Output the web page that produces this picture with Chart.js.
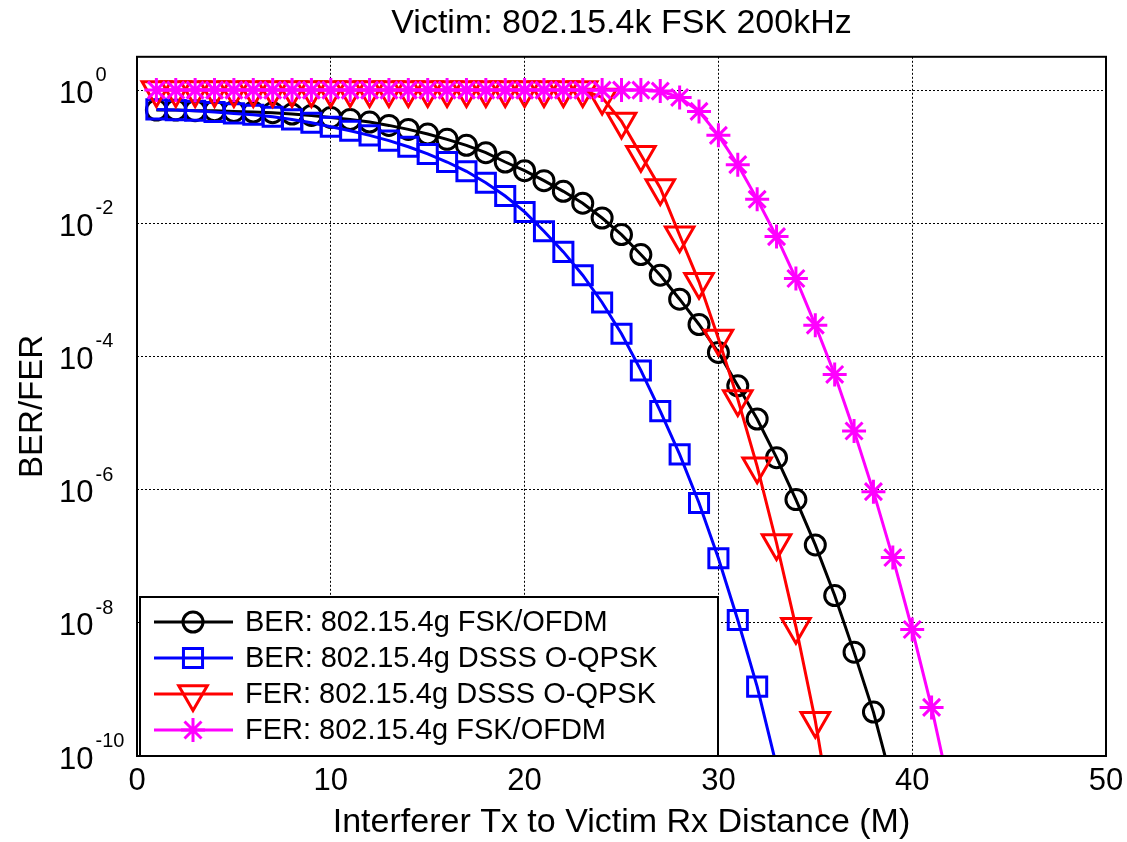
<!DOCTYPE html>
<html>
<head>
<meta charset="utf-8">
<script src="https://cdn.jsdelivr.net/npm/chart.js@4.4.1/dist/chart.umd.min.js"></script>
<style>
  html, body { margin: 0; padding: 0; background: #fff; }
  #wrap { width: 1127px; height: 842px; }
</style>
</head>
<body>
<div id="wrap"><canvas id="ber_chart" width="1127" height="842"></canvas></div>
<script>
// distance of interferer (M)
const distance = [1, 2, 3, 4, 5, 6, 7, 8, 9, 10, 11, 12, 13, 14, 15, 16, 17, 18, 19, 20,
  21, 22, 23, 24, 25, 26, 27, 28, 29, 30, 31, 32, 33, 34, 35, 36, 37, 38, 39, 40, 41, 42];

// BER: 802.15.4g FSK/OFDM
const berFskOfdm = [0.501, 0.501, 0.490, 0.490, 0.479, 0.468, 0.457, 0.437, 0.417, 0.389,
  0.363, 0.331, 0.295, 0.257, 0.219, 0.182, 0.148, 0.115, 0.0832, 0.0617,
  0.0437, 0.0302, 0.0200, 0.0120, 0.00676, 0.00339, 0.00166, 7.24e-4, 3.02e-4, 1.15e-4,
  3.63e-5, 1.15e-5, 3.02e-6, 7.08e-7, 1.48e-7, 2.57e-8, 3.63e-9, 4.57e-10, 3.63e-11];

// BER: 802.15.4g DSSS O-QPSK
const berDsss = [0.513, 0.501, 0.490, 0.468, 0.447, 0.427, 0.398, 0.363, 0.324, 0.282,
  0.245, 0.209, 0.174, 0.141, 0.110, 0.0832, 0.0603, 0.0407, 0.0257, 0.0148,
  0.00759, 0.00372, 0.00166, 6.46e-4, 2.19e-4, 6.17e-5, 1.51e-5, 3.39e-6, 6.31e-7, 9.33e-8,
  1.10e-8, 1.10e-9, 7.08e-11];

// FER: 802.15.4g DSSS O-QPSK
const ferDsss = [1, 1, 1, 1, 1, 1, 1, 1, 1, 1, 1, 1, 1, 1, 1, 1, 1, 1, 1, 1, 1, 1, 1,
  0.776, 0.339, 0.107, 0.0339, 0.00661, 0.00132, 1.86e-4, 2.29e-5, 2.24e-6, 1.58e-7,
  8.71e-9, 3.39e-10, 6.31e-12];

// FER: 802.15.4g FSK/OFDM
const ferFskOfdm = [1, 1, 1, 1, 1, 1, 1, 1, 1, 1, 1, 1, 1, 1, 1, 1, 1, 1, 1, 1, 1, 1, 1, 1, 1, 1,
  0.966, 0.776, 0.479, 0.209, 0.0759, 0.0229, 0.00631, 0.00148, 2.95e-4, 5.37e-5,
  7.59e-6, 9.33e-7, 9.55e-8, 7.94e-9, 5.37e-10, 2.51e-11];

const seriesLabels = ['BER: 802.15.4g FSK/OFDM', 'BER: 802.15.4g DSSS O-QPSK',
  'FER: 802.15.4g DSSS O-QPSK', 'FER: 802.15.4g FSK/OFDM'];
const xTicks = [0, 10, 20, 30, 40, 50];
const yTicks = [1e-10, 1e-8, 1e-6, 1e-4, 1e-2, 1];
const yMin = 1e-10;
const yMax = 3.1623;

const FONT = '"Liberation Sans", Arial, Helvetica, sans-serif';
Chart.defaults.font.family = FONT;
Chart.defaults.color = '#000';

function toPoints(values) {
  return values.map(function (v, i) { return { x: distance[i], y: v }; });
}

function makeSet(label, values, color, style, radius, rotation, order) {
  return {
    label: label,
    data: toPoints(values),
    borderColor: color,
    borderWidth: 3,
    pointStyle: style,
    pointRadius: radius,
    pointRotation: rotation,
    pointBorderWidth: 3,
    pointBorderColor: color,
    pointBackgroundColor: 'rgba(0,0,0,0)',
    tension: 0,
    fill: false,
    clip: 0,
    order: order
  };
}

// 凡例・枠・Y軸ラベル (10^n) を描くプラグイン
const framePlugin = {
  id: 'frame',
  afterDatasetsDraw(chart) {
    const ctx = chart.ctx;
    const a = chart.chartArea;
    // 凡例
    const bx = a.left + 3, by = 597, bw = 578, bh = a.bottom - by;
    ctx.save();
    ctx.fillStyle = '#fff';
    ctx.fillRect(bx, by, bw, bh);
    ctx.strokeStyle = '#000';
    ctx.lineWidth = 2;
    ctx.strokeRect(bx, by, bw, bh);
    const sets = chart.data.datasets;
    for (let i = 0; i < sets.length; i++) {
      const ds = sets[i];
      const ry = 622 + i * 36;
      ctx.strokeStyle = ds.borderColor;
      ctx.lineWidth = 3;
      ctx.beginPath();
      ctx.moveTo(bx + 14, ry);
      ctx.lineTo(bx + 93, ry);
      ctx.stroke();
      if (Chart.helpers && Chart.helpers.drawPoint) {
        ctx.lineWidth = ds.pointBorderWidth;
        ctx.fillStyle = 'rgba(0,0,0,0)';
        Chart.helpers.drawPoint(ctx, {
          pointStyle: ds.pointStyle, radius: ds.pointRadius,
          rotation: ds.pointRotation, borderWidth: ds.pointBorderWidth
        }, bx + 53, ry);
      }
      ctx.fillStyle = '#000';
      ctx.font = '29px ' + FONT;
      ctx.textAlign = 'left';
      ctx.textBaseline = 'middle';
      ctx.fillText(ds.label, bx + 105, ry + 1);
    }
    // 枠
    ctx.strokeStyle = '#000';
    ctx.lineWidth = 2;
    ctx.strokeRect(a.left, a.top, a.right - a.left, a.bottom - a.top);
    ctx.restore();
  },
  afterDraw(chart) {
    const ctx = chart.ctx;
    const yScale = chart.scales.y;
    ctx.save();
    ctx.fillStyle = '#000';
    ctx.textAlign = 'left';
    ctx.textBaseline = 'alphabetic';
    yScale.ticks.forEach(function (t) {
      const py = yScale.getPixelForValue(t.value);
      const exp = Math.round(Math.log10(t.value));
      ctx.font = '31px ' + FONT;
      ctx.fillText('10', 59, py + 12.5);
      const w = ctx.measureText('10').width;
      ctx.font = '20px ' + FONT;
      ctx.fillText(String(exp), 59 + w + 2, py - 9);
    });
    ctx.restore();
  }
};

const ctx = document.getElementById('ber_chart').getContext('2d');
const berChart = new Chart(ctx, {
  type: 'line',
  data: {
    datasets: [
      makeSet(seriesLabels[0], berFskOfdm, '#000000', 'circle', 10, 0, 4),
      makeSet(seriesLabels[1], berDsss, '#0000FF', 'rect', 13.5, 0, 3),
      makeSet(seriesLabels[2], ferDsss, '#FF0000', 'triangle', 16.5, 180, 2),
      makeSet(seriesLabels[3], ferFskOfdm, '#FF00FF', 'star', 12, 0, 1)
    ]
  },
  options: {
    responsive: false,
    animation: false,
    devicePixelRatio: 1,
    layout: { padding: { left: 0, right: 21, top: 0, bottom: 0 } },
    plugins: {
      legend: { display: false },
      tooltip: { enabled: false },
      title: {
        display: true,
        fullSize: false,
        text: 'Victim: 802.15.4k FSK 200kHz',
        color: '#000',
        font: { size: 34, weight: 'normal', lineHeight: 1.2 },
        padding: { top: 3, bottom: 13 }
      }
    },
    scales: {
      x: {
        type: 'linear',
        min: 0,
        max: 50,
        afterBuildTicks: function (s) { s.ticks = xTicks.map(function (v) { return { value: v }; }); },
        ticks: { font: { size: 31 }, color: '#000', padding: 7, maxRotation: 0, autoSkip: false },
        grid: { color: '#000', lineWidth: 1, drawTicks: false },
        border: { display: false, dash: [2, 2] },
        title: {
          display: true,
          text: 'Interferer Tx to Victim Rx Distance (M)',
          color: '#000',
          font: { size: 34, lineHeight: 1 },
          padding: { top: 0, bottom: 2 }
        },
        afterFit: function (s) { s.height = 86; s.paddingLeft = 0; s.paddingRight = 0; }
      },
      y: {
        type: 'logarithmic',
        min: yMin,
        max: yMax,
        afterBuildTicks: function (s) { s.ticks = yTicks.map(function (v) { return { value: v }; }); },
        ticks: { display: false },
        grid: { color: '#000', lineWidth: 1, drawTicks: false },
        border: { display: false, dash: [2, 2] },
        title: {
          display: true,
          text: 'BER/FER',
          color: '#000',
          font: { size: 33, lineHeight: 1 },
          padding: { top: 16, bottom: 0 }
        },
        afterFit: function (s) { s.width = 137; s.paddingTop = 0; s.paddingBottom = 0; }
      }
    }
  },
  plugins: [framePlugin]
});
</script>
</body>
</html>
